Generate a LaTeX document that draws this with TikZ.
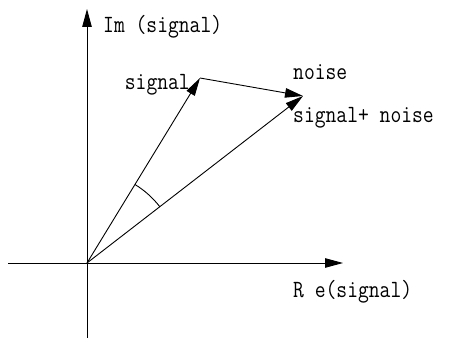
\documentclass[tikz,border=0pt]{standalone}
\usepackage{fontspec}
\usetikzlibrary{arrows.meta,calc}
\newcommand{\tallt}[1]{\scalebox{1}[1.18]{#1}}
\begin{document}
\begin{tikzpicture}[x=1pt,y=-1pt,
  vec/.style={line width=0.9pt,-{Triangle[length=18pt,width=9.5pt]}},
  lbl/.style={inner sep=0pt,font=\ttfamily\fontsize{21}{23}\selectfont}]
\useasboundingbox (0,0) rectangle (461,347);
\coordinate (O) at (87,263);
\coordinate (xl) at (8,263);
\coordinate (xr) at (343,263);
\coordinate (yb) at (87,338);
\coordinate (yt) at (87,9);
\coordinate (S) at (200,78);
\coordinate (N) at (303,96);
\draw[vec] (xl) -- (xr);
\draw[vec] (yb) -- (yt);
\draw[vec] (O) -- (S);
\draw[vec] (S) -- (N);
\draw[vec] (O) -- (N);
\draw[line width=0.9pt] ($(O)!92pt!(S)$) arc[start angle=-58.6, end angle=-37.7, radius=92];
\node[lbl,anchor=base west] (im) at (103,33) {\tallt{Im (signal)}};
\node[lbl,anchor=base east] (sig) at (190,90) {\tallt{signal}};
\node[lbl,anchor=base west] (noi) at (293,80) {\tallt{noise}};
\node[lbl,anchor=base west] (sum) at (293,123) {\tallt{signal+ noise}};
\node[lbl,anchor=base west] (re) at (293,298) {\tallt{R e(signal)}};
\end{tikzpicture}
\end{document}
